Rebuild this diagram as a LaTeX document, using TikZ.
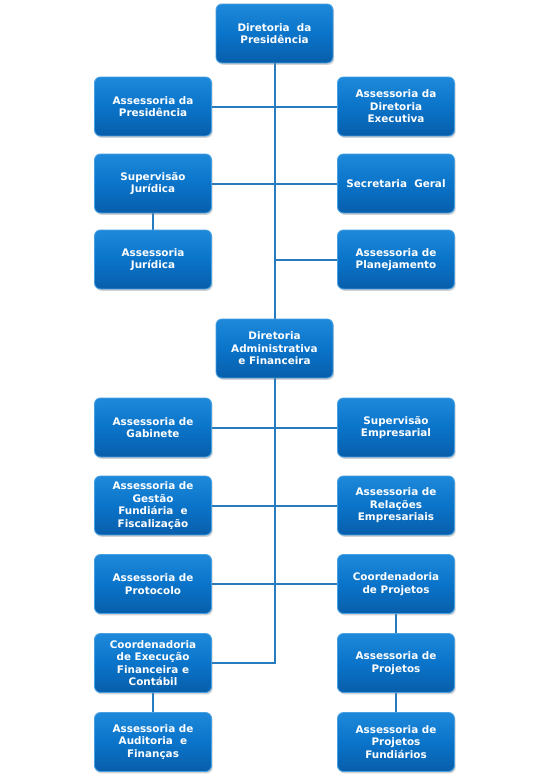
\documentclass[tikz,border=0pt]{standalone}
\usepackage{fontspec}
\setmainfont{DejaVu Sans}
\usetikzlibrary{shadows,backgrounds}
\definecolor{boxtop}{RGB}{30,136,218}
\definecolor{boxmid}{RGB}{10,116,202}
\definecolor{boxbot}{RGB}{8,94,170}
\definecolor{boxedge}{RGB}{70,160,226}
\definecolor{wire}{RGB}{38,124,190}
\tikzset{
  unit/.style={draw=boxedge, line width=0.9pt, rounded corners=6pt,
    top color=boxtop, bottom color=boxbot, middle color=boxmid,
    minimum width=117pt, minimum height=59pt, inner sep=2pt,
    align=center, text=white,
    font=\fontsize{10.4}{12.5}\selectfont\bfseries,
    drop shadow={opacity=0.35, shadow xshift=1.2pt, shadow yshift=-1.8pt}},
  wireline/.style={draw=wire, line width=2pt}
}
\begin{document}
\begin{tikzpicture}[x=1pt,y=-1pt]
\useasboundingbox (0,0) rectangle (550,780);
% column centres: left 153, middle 274.5, right 396
\node[unit] (dp)  at (274.5,33.5) {Diretoria\ \ da\\Presidência};
\node[unit] (ap)  at (153,106.5) {Assessoria da\\Presidência};
\node[unit] (ade) at (396,106.5) {Assessoria da\\Diretoria\\Executiva};
\node[unit] (sj)  at (153,183.5) {Supervisão\\Jurídica};
\node[unit] (sg)  at (396,183.5) {Secretaria\ \ Geral};
\node[unit] (aj)  at (153,259.5) {Assessoria\\Jurídica};
\node[unit] (apl) at (396,259.5) {Assessoria de\\Planejamento};
\node[unit] (daf) at (274.5,348.5) {Diretoria\\Administrativa\\e Financeira};
\node[unit] (ag)  at (153,427.5) {Assessoria de\\Gabinete};
\node[unit] (se)  at (396,427.5) {Supervisão\\Empresarial};
\node[unit] (agf) at (153,505.5) {Assessoria de\\Gestão\\Fundiária\ \ e\\Fiscalização};
\node[unit] (are) at (396,505.5) {Assessoria de\\Relações\\Empresariais};
\node[unit] (apr) at (153,584) {Assessoria de\\Protocolo};
\node[unit] (cp)  at (396,584) {Coordenadoria\\de Projetos};
\node[unit] (ce)  at (153,663) {Coordenadoria\\de Execução\\Financeira e\\Contábil};
\node[unit] (asp) at (396,663) {Assessoria de\\Projetos};
\node[unit] (aaf) at (153,742) {Assessoria de\\Auditoria\ \ e\\Finanças};
\node[unit] (apf) at (396,742) {Assessoria de\\Projetos\\Fundiários};
\begin{pgfonlayer}{background}
\draw[wireline] (dp.south) -- (daf.north);
\draw[wireline] (ap.east) -- (ade.west);
\draw[wireline] (sj.east) -- (sg.west);
\draw[wireline] (sj.south) -- (aj.north);
\draw[wireline] (apl.west) -- (apl.west -| dp.south);
\draw[wireline] (daf.south) |- (ce.east);
\draw[wireline] (ag.east) -- (se.west);
\draw[wireline] (agf.east) -- (are.west);
\draw[wireline] (apr.east) -- (cp.west);
\draw[wireline] (cp.south) -- (asp.north);
\draw[wireline] (asp.south) -- (apf.north);
\draw[wireline] (ce.south) -- (aaf.north);
\end{pgfonlayer}
\end{tikzpicture}
\end{document}
